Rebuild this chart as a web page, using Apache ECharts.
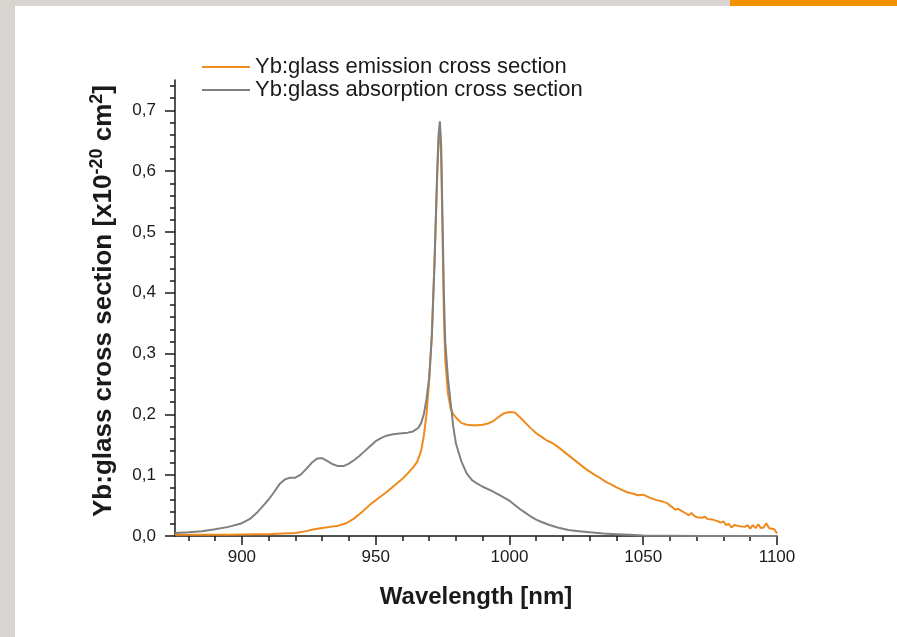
<!DOCTYPE html>
<html>
<head>
<meta charset="utf-8">
<script src="https://cdn.jsdelivr.net/npm/echarts@6/dist/echarts.min.js"></script>
<style>
  html, body { margin: 0; padding: 0; width: 897px; height: 637px; overflow: hidden; background: #d8d5d0; }
  #panel { position: absolute; left: 15px; top: 6px; right: 0; bottom: 0; background: #ffffff; }
  #bar { position: absolute; left: 730px; top: 0; width: 167px; height: 6px; background: #f39200; }
  #chart { position: absolute; left: 0; top: 0; width: 897px; height: 637px; }
</style>
</head>
<body>
<div id="panel"></div>
<div id="bar"></div>
<div id="chart"></div>
<script>
// ---- data ----
const xMajorTicks = [900, 950, 1000, 1050, 1100];
const xMinorTicks = [880, 890, 910, 920, 930, 940, 960, 970, 980, 990, 1010, 1020, 1030, 1040, 1060, 1070, 1080, 1090];
const yMajorTicks = [0, 0.1, 0.2, 0.3, 0.4, 0.5, 0.6, 0.7];
const yMinorTicks = [0.02, 0.04, 0.06, 0.08, 0.12, 0.14, 0.16, 0.18, 0.22, 0.24, 0.26, 0.28,
  0.32, 0.34, 0.36, 0.38, 0.42, 0.44, 0.46, 0.48, 0.52, 0.54, 0.56, 0.58, 0.62, 0.64, 0.66, 0.68, 0.72, 0.74];

const seriesNames = ['Yb:glass emission cross section', 'Yb:glass absorption cross section'];

const emissionX = [875, 885, 895, 905, 910, 915, 920, 924, 927, 930, 933, 936, 939, 942, 945, 948, 951, 954, 957, 960,
  962, 964, 965.5, 967, 968, 969, 970, 971, 972, 973, 973.5, 974, 974.5, 975, 975.5, 976, 977, 978, 979, 980,
  982, 984, 986, 988, 990, 992, 994, 996, 998, 1000, 1002, 1004, 1006, 1008, 1010, 1012, 1014, 1016, 1018, 1020,
  1022, 1024, 1026, 1028, 1030, 1032, 1034, 1036, 1038, 1040, 1042, 1044, 1046, 1048, 1050, 1051, 1053, 1055, 1057, 1059,
  1060, 1061, 1062, 1063, 1064, 1066, 1067, 1068, 1069, 1070, 1072, 1073, 1074, 1076, 1078, 1079, 1080, 1081, 1082, 1083,
  1084, 1086, 1088, 1089, 1090, 1091, 1092, 1093, 1094, 1095, 1096, 1097, 1098, 1099, 1100];
const emissionY = [0.002, 0.002, 0.002, 0.003, 0.003, 0.004, 0.005, 0.008, 0.011, 0.013, 0.015, 0.017, 0.021, 0.029, 0.040, 0.052, 0.062, 0.072, 0.083, 0.094,
  0.103, 0.113, 0.122, 0.140, 0.165, 0.200, 0.256, 0.33, 0.45, 0.59, 0.65, 0.672, 0.62, 0.49, 0.36, 0.29, 0.235, 0.21, 0.200, 0.195,
  0.186, 0.183, 0.182, 0.182, 0.183, 0.185, 0.189, 0.196, 0.202, 0.204, 0.203, 0.195, 0.186, 0.177, 0.169, 0.163, 0.157, 0.153, 0.147, 0.140,
  0.133, 0.126, 0.119, 0.112, 0.106, 0.100, 0.095, 0.089, 0.085, 0.080, 0.076, 0.072, 0.070, 0.067, 0.068, 0.066, 0.062, 0.059, 0.057, 0.054,
  0.050, 0.047, 0.043, 0.045, 0.042, 0.037, 0.034, 0.038, 0.033, 0.031, 0.030, 0.032, 0.028, 0.027, 0.024, 0.022, 0.024, 0.018, 0.020, 0.014,
  0.018, 0.016, 0.015, 0.018, 0.012, 0.018, 0.013, 0.019, 0.013, 0.014, 0.021, 0.013, 0.012, 0.011, 0.004];

const absorptionX = [875, 880, 885, 890, 895, 900, 903, 906, 908, 910, 912, 914, 916, 918, 920, 922, 924, 926, 928, 929, 930,
  932, 934, 936, 938, 940, 942, 944, 946, 948, 950, 952, 954, 956, 958, 960, 962, 964, 966, 967, 968, 969, 970,
  971, 972, 973, 973.5, 974, 974.5, 975, 975.5, 976, 977, 978, 979, 980, 982, 984, 986, 988, 990, 993, 996, 998,
  1000, 1002, 1004, 1006, 1008, 1010, 1012, 1015, 1018, 1022, 1026, 1030, 1035, 1040, 1045, 1050, 1060, 1070, 1100];
const absorptionY = [0.005, 0.006, 0.008, 0.011, 0.015, 0.021, 0.028, 0.040, 0.050, 0.060, 0.072, 0.085, 0.093, 0.096, 0.096, 0.101, 0.110, 0.120, 0.127, 0.128, 0.128,
  0.123, 0.118, 0.115, 0.115, 0.119, 0.125, 0.132, 0.140, 0.148, 0.156, 0.161, 0.165, 0.167, 0.168, 0.169, 0.170, 0.172, 0.178, 0.186, 0.200, 0.225, 0.26,
  0.33, 0.45, 0.60, 0.66, 0.682, 0.64, 0.52, 0.40, 0.32, 0.26, 0.22, 0.18, 0.152, 0.123, 0.103, 0.092, 0.086, 0.081, 0.075, 0.068, 0.063,
  0.058, 0.051, 0.044, 0.038, 0.032, 0.027, 0.023, 0.018, 0.014, 0.010, 0.008, 0.006, 0.004, 0.003, 0.002, 0.001, 0.0005, 0.0, 0.0];

// ---- chart ----
const pair = (xs, ys) => xs.map((x, i) => [x, ys[i]]);
const axisColor = '#1a1a1a';
const font = 'Liberation Sans, Arial, sans-serif';
const rect = { left: 175, top: 80, width: 602, height: 456 };

const chart = echarts.init(document.getElementById('chart'), null, { renderer: 'canvas' });
chart.setOption({
  animation: false,
  backgroundColor: 'transparent',
  color: ['#ef8a1c', '#808080'],
  textStyle: { fontFamily: font },
  legend: {
    orient: 'vertical',
    left: 202, top: 56, padding: 0,
    icon: 'rect',
    itemWidth: 48, itemHeight: 2,
    itemGap: 1,
    textStyle: { fontSize: 22, color: '#1a1a1a', fontFamily: font, lineHeight: 22 },
    data: seriesNames
  },
  grid: [
    Object.assign({}, rect),
    Object.assign({}, rect)
  ],
  xAxis: [
    {
      type: 'value', gridIndex: 0, min: 875, max: 1100,
      name: 'Wavelength [nm]', nameLocation: 'middle', nameGap: 49,
      nameTextStyle: { fontSize: 24, fontWeight: 'bold', color: '#1a1a1a', fontFamily: font },
      axisLine: { show: true, lineStyle: { color: axisColor, width: 1.5 } },
      axisTick: { show: true, inside: false, length: 9, customValues: xMajorTicks, lineStyle: { color: axisColor, width: 1.5 } },
      axisLabel: { customValues: xMajorTicks, margin: 13, fontSize: 17, color: '#1a1a1a', fontFamily: font,
        formatter: v => String(v) },
      splitLine: { show: false }
    },
    {
      type: 'value', gridIndex: 1, min: 875, max: 1100, position: 'bottom',
      axisLine: { show: false },
      axisTick: { show: true, inside: false, length: 5, customValues: xMinorTicks, lineStyle: { color: axisColor, width: 1.5 } },
      axisLabel: { show: false },
      splitLine: { show: false }
    }
  ],
  yAxis: [
    {
      type: 'value', gridIndex: 0, min: 0, max: 0.75,
      name: '{t|Yb:glass cross section [x10}{s|-20}{t| cm}{s|2}{t|]}',
      nameLocation: 'middle', nameGap: 55, nameRotate: 90,
      nameTextStyle: {
        padding: [0, 0, 0, 14],
        rich: {
          t: { fontSize: 26, fontWeight: 'bold', color: '#1a1a1a', fontFamily: font, lineHeight: 32 },
          s: { fontSize: 18, fontWeight: 'bold', color: '#1a1a1a', fontFamily: font, lineHeight: 18, verticalAlign: 'top' }
        }
      },
      axisLine: { show: true, lineStyle: { color: axisColor, width: 1.5 } },
      axisTick: { show: true, inside: false, length: 10, customValues: yMajorTicks, lineStyle: { color: axisColor, width: 1.5 } },
      axisLabel: {
        customValues: yMajorTicks, margin: 19, fontSize: 17, color: '#1a1a1a', fontFamily: font,
        formatter: v => v.toFixed(1).replace('.', ',')
      },
      splitLine: { show: false }
    },
    {
      type: 'value', gridIndex: 1, min: 0, max: 0.75, position: 'left',
      axisLine: { show: false },
      axisTick: { show: true, inside: false, length: 5, customValues: yMinorTicks, lineStyle: { color: axisColor, width: 1.5 } },
      axisLabel: { show: false },
      splitLine: { show: false }
    }
  ],
  series: [
    {
      name: seriesNames[0], type: 'line', xAxisIndex: 0, yAxisIndex: 0,
      data: pair(emissionX, emissionY), showSymbol: false, symbol: 'none',
      lineStyle: { width: 2, color: '#ef8a1c' }, z: 2
    },
    {
      name: seriesNames[1], type: 'line', xAxisIndex: 0, yAxisIndex: 0,
      data: pair(absorptionX, absorptionY), showSymbol: false, symbol: 'none',
      lineStyle: { width: 2, color: '#808080' }, z: 3
    }
  ]
});
</script>
</body>
</html>
